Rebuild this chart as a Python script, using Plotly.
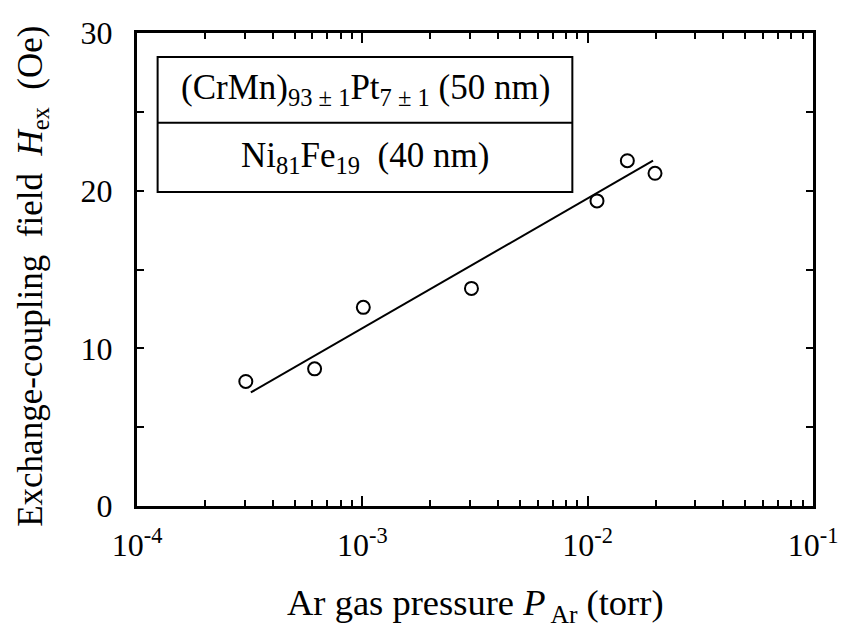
import plotly.graph_objects as go

# ---- data ----
pressure_torr = [3.04e-4, 6.14e-4, 1.01e-3, 3.05e-3, 1.10e-2, 1.50e-2, 1.99e-2]
hex_oe = [7.9, 8.7, 12.6, 13.8, 19.35, 21.9, 21.1]

fit_pressure = [3.2e-4, 1.95e-2]
fit_hex = [7.2, 21.9]

x_tickvals = [1e-4, 1e-3, 1e-2, 1e-1]
x_ticktext = ["10<sup>-4</sup>", "10<sup>-3</sup>", "10<sup>-2</sup>", "10<sup>-1</sup>"]

y_tickvals = [0, 10, 20, 30]
y_ticktext = ["0", "10", "20", "30"]

legend_row1 = "(CrMn)<sub>93 ± 1</sub>Pt<sub>7 ± 1</sub> (50 nm)"
legend_row2 = "Ni<sub>81</sub>Fe<sub>19</sub>  (40 nm)"
x_title = "Ar gas pressure <i>P</i><sub> Ar</sub> (torr)"
y_title = "Exchange-coupling  field  <i>H</i><sub>ex</sub>  (Oe)"

FONT = "Liberation Serif, Times New Roman, serif"

fig = go.Figure()
fig.add_trace(go.Scatter(
    x=fit_pressure, y=fit_hex, mode="lines",
    line=dict(color="black", width=2), showlegend=False, hoverinfo="skip"))
fig.add_trace(go.Scatter(
    x=pressure_torr, y=hex_oe, mode="markers",
    marker=dict(symbol="circle-open", size=13, color="black", line=dict(width=2)),
    showlegend=False))

fig.update_layout(
    width=850, height=625,
    margin=dict(l=137, r=24, t=33, b=119),
    paper_bgcolor="white", plot_bgcolor="white",
    font=dict(family=FONT, color="black", size=32),
    xaxis=dict(
        type="log", range=[-4, -1],
        tickmode="array", tickvals=x_tickvals, ticktext=x_ticktext,
        ticks="inside", ticklen=10, tickwidth=1.5, tickcolor="black",
        minor=dict(dtick="D1", ticks="inside",
                   ticklen=6, tickwidth=1.5, tickcolor="black"),
        showline=True, linewidth=3, linecolor="black", mirror="ticks",
        showgrid=False, zeroline=False,
        tickfont=dict(family=FONT, size=32, color="black"),
        ticklabelstandoff=9,
        ticklabeloverflow="allow",
    ),
    yaxis=dict(
        range=[0, 30],
        tickmode="array", tickvals=y_tickvals, ticktext=y_ticktext,
        ticks="inside", ticklen=7, tickwidth=1.5, tickcolor="black",
        minor=dict(dtick=5, ticks="inside", ticklen=7, tickwidth=1.5, tickcolor="black"),
        showline=True, linewidth=3, linecolor="black", mirror="ticks",
        showgrid=False, zeroline=False,
        tickfont=dict(family=FONT, size=32, color="black"),
        ticklabelstandoff=15,
    ),
    shapes=[
        dict(type="rect", xref="paper", yref="paper", x0=0.0305, x1=0.644, y0=0.664, y1=0.949,
             line=dict(color="black", width=2), fillcolor="white", layer="above"),
        dict(type="line", xref="paper", yref="paper", x0=0.0305, x1=0.644, y0=0.810, y1=0.810,
             line=dict(color="black", width=2), layer="above"),
    ],
    annotations=[
        dict(text=legend_row1, xref="paper", yref="paper", x=0.3375, y=0.8795,
             xanchor="center", yanchor="middle", showarrow=False,
             font=dict(family=FONT, size=35, color="black")),
        dict(text=legend_row2, xref="paper", yref="paper", x=0.3375, y=0.737,
             xanchor="center", yanchor="middle", showarrow=False,
             font=dict(family=FONT, size=35, color="black")),
        dict(text=x_title, xref="paper", yref="paper", x=0.501, y=-0.211,
             xanchor="center", yanchor="middle", showarrow=False,
             font=dict(family=FONT, size=36.5, color="black")),
        dict(text=y_title, xref="paper", yref="paper", x=-0.155, y=0.485,
             xanchor="center", yanchor="middle", showarrow=False, textangle=-90,
             font=dict(family=FONT, size=35, color="black")),
    ],
)

fig.write_html("out.html")
